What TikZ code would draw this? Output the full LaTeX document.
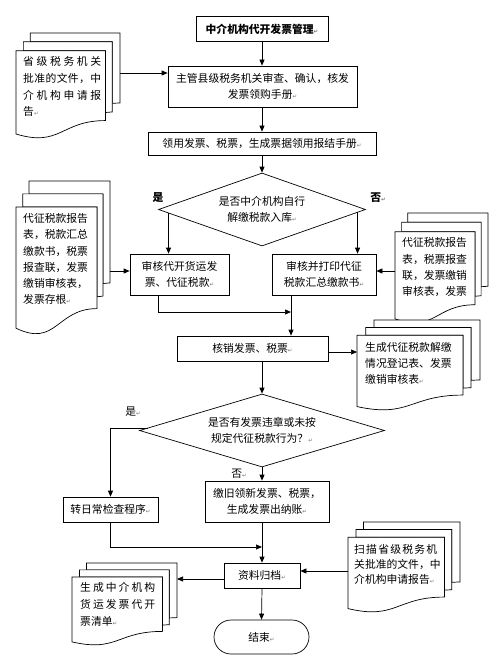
\documentclass[tikz,border=0pt]{standalone}
\usepackage{fontspec}
\setmainfont{Noto Sans CJK SC}
\newfontfamily\djv{DejaVu Sans}
\usetikzlibrary{shapes.geometric,arrows.meta,calc}
\newcommand\pmk{{\djv\fontsize{5.5}{5.5}\selectfont\textcolor{black!55}{↵}}}
\makeatletter
\newcommand\jsp[2]{\makebox[#1][s]{\jsp@a#2\jsp@end}}
\def\jsp@end{\jsp@end@}
\def\jsp@a#1#2{#1\ifx\jsp@end#2\else\hfil\expandafter\jsp@a\expandafter#2\fi}
\makeatother
\tikzset{
  every node/.style={font=\fontsize{10.8}{16.5}\selectfont},
  box/.style={draw, line width=0.7pt, fill=white, inner sep=0pt, align=center},
  arr/.style={-{Triangle[length=6pt,width=5pt]}, line width=0.7pt},
  ln/.style={line width=0.7pt},
  dec/.style={draw, diamond, line width=0.7pt, inner sep=0pt, align=center},
  doctext/.style={anchor=north west, inner sep=0pt, align=left},
  docline/.style={draw, fill=white, line width=0.7pt},
  lbl/.style={inner sep=0pt},
}
% multi-document shape: #1 x0, #2 y0, #3 W, #4 H
\newcommand\mdoc[4]{%
  \path[docline] ({#1+0.1376*#3},{#2+0.084*#4}) -- ({#1+0.1376*#3},{#2}) -- ({#1+#3},{#2})
     -- ({#1+#3},{#2+0.666*#4}) -- ({#1+0.926*#3},{#2+0.67*#4}) -- ({#1+0.926*#3},{#2+0.084*#4}) -- cycle;
  \path[docline] ({#1+0.0709*#3},{#2+0.170*#4}) -- ({#1+0.0709*#3},{#2+0.084*#4}) -- ({#1+0.926*#3},{#2+0.084*#4})
     -- ({#1+0.926*#3},{#2+0.752*#4}) -- ({#1+0.861*#3},{#2+0.757*#4}) -- ({#1+0.861*#3},{#2+0.170*#4}) -- cycle;
  \path[docline] ({#1},{#2+0.962*#4}) .. controls ({#1+0.4305*#3},{#2+1.0899*#4}) and ({#1+0.4305*#3},{#2+0.834*#4})
     .. ({#1+0.861*#3},{#2+0.834*#4}) -- ({#1+0.861*#3},{#2+0.170*#4}) -- ({#1},{#2+0.170*#4}) -- cycle;
}
\begin{document}
\begin{tikzpicture}[x=1pt,y=-1pt]
\useasboundingbox (0,0) rectangle (500,666);

% documents
\mdoc{16}{33}{104}{105}
\mdoc{16}{181}{94}{153}
\mdoc{395}{213}{93}{110}
\mdoc{357}{320}{123}{90}
\mdoc{72}{563}{105}{82}
\mdoc{348}{522}{112}{90}

\node[doctext, font=\fontsize{10.8}{16.7}\selectfont] (d1t) at (23,56.5)
  {\jsp{78pt}{省级税务机关}\\\jsp{78pt}{批准的文件，中}\\\jsp{78pt}{介机构申请报}\\告\pmk};
\node[doctext, font=\fontsize{10.8}{16.2}\selectfont] (d2t) at (23,213.5)
  {代征税款报告\\表，税款汇总\\缴款书，税票\\报查联，发票\\缴销审核表，\\发票存根\pmk};
\node[doctext, font=\fontsize{10.8}{16.3}\selectfont] (d3t) at (402,237.5)
  {代征税款报告\\表，税票报查\\联，发票缴销\\审核表，发票};
\node[doctext, font=\fontsize{10.8}{16}\selectfont] (d4t) at (365,342.5)
  {生成代征税款解缴\\情况登记表、发票\\缴销审核表\pmk};
\node[doctext, font=\fontsize{10.8}{17}\selectfont] (d5t) at (80,582.5)
  {\jsp{75pt}{生成中介机构}\\\jsp{75pt}{货运发票代开}\\票清单\pmk};
\node[doctext, font=\fontsize{10.8}{15}\selectfont] (d6t) at (354,544.5)
  {\jsp{83pt}{扫描省级税务机}\\关批准的文件，中\\介机构申请报告\pmk};

\coordinate (d1a) at (120,73);
\coordinate (d2a) at (110,271);
\coordinate (d3a) at (395,271);
\coordinate (d4a) at (357,352);
\coordinate (d5a) at (177,579);
\coordinate (d6a) at (348,571);
\coordinate (y312) at (0,312);
\coordinate (y547) at (0,547);

% process boxes
\node[box, minimum width=132pt, minimum height=25pt, font=\bfseries\fontsize{10.8}{16}\selectfont] (t) at (262,29) {中介机构代开发票管理\pmk};
\node[box, minimum width=189pt, minimum height=41pt] (b2) at (262.5,86.5) {主管县级税务机关审查、确认，核发\\发票领购手册\pmk};
\node[box, minimum width=228pt, minimum height=23pt] (b3) at (262,143.5) {领用发票、税票，生成票据领用报结手册\pmk};
\node[dec, aspect=2.84, minimum width=207pt, minimum height=73pt] (q1) at (262,209.5) {是否中介机构自行\\解缴税款入库\pmk};
\node[box, minimum width=99pt, minimum height=41pt] (b4) at (179.5,274.5) {审核代开货运发\\票、代征税款\pmk};
\node[box, minimum width=104pt, minimum height=41pt] (b5) at (324,274.5) {审核并打印代征\\税款汇总缴款书\pmk};
\node[box, minimum width=151pt, minimum height=25pt] (b6) at (252.5,348.5) {核销发票、税票\pmk};
\node[dec, aspect=3.36, minimum width=245pt, minimum height=73pt] (q2) at (262,430.5) {是否有发票违章或未按\\规定代征税款行为？\pmk};
\node[box, minimum width=95pt, minimum height=25pt] (b7) at (110.5,509.5) {转日常检查程序\pmk};
\node[box, minimum width=124pt, minimum height=41pt] (b8) at (267,501.5) {缴旧领新发票、税票，\\生成发票出纳账\pmk};
\node[box, minimum width=76pt, minimum height=25pt] (b9) at (262,575.5) {资料归档\pmk};
\node[box, rounded corners=17pt, minimum width=95pt, minimum height=34pt] (e) at (261.5,637) {结束\pmk};

% labels
\node[lbl, font=\bfseries\fontsize{10.8}{13}\selectfont] (yes1) at (158,198) {是};
\node[lbl, font=\bfseries\fontsize{10.8}{13}\selectfont] (no1) at (378,198) {否\pmk};
\node[lbl] (yes2) at (133,412) {是\pmk};
\node[lbl] (no2) at (239,474) {否\pmk};

% connectors
\draw[arr] (t.south) -- (t.south |- b2.north);
\draw[arr] (d1a) -- (d1a -| b2.west);
\draw[arr] (b3.north |- b2.south) -- (b3.north);
\draw[arr] (b3.south) -- (q1.north);
\coordinate (p1) at ($(q1.west)!0.1!(q1.south)$);
\coordinate (p2) at ($(q1.east)!0.08!(q1.south)$);
\draw[arr] (p1) -- (p1 |- b4.north);
\draw[arr] (p2) -- (p2 |- b5.north);
\draw[arr] (d2a) -- (d2a -| b4.west);
\draw[arr] (d3a) -- (d3a -| b5.east);
\coordinate (b4o) at ([xshift=-21.5pt]b4.south);
\coordinate (b5o) at ([xshift=-33pt]b5.south);
\draw[arr] (b5o) -- (b5o |- b6.north);
\draw[arr] (b4o) |- (b5o |- y312);
\draw[arr] (d4a -| b6.east) -- (d4a);
\coordinate (b6o) at ([xshift=9.5pt]b6.south);
\draw[arr] (b6o) -- (b6o |- q2.north);
\coordinate (p4) at ($(q2.west)!0.07!(q2.north)$);
\draw[arr] (p4) -| (b7.north);
\draw[arr] (q2.south) -- (q2.south |- b8.north);
\draw[arr] (b7.south) |- (q2.south |- y547);
\draw[arr] (q2.south |- b8.south) -- (q2.south |- b9.north);
\draw[arr] (d5a -| b9.west) -- (d5a);
\draw[arr] (d6a) -- (d6a -| b9.east);
\draw[arr] (b9.south) -- (e.north);
\end{tikzpicture}
\end{document}
